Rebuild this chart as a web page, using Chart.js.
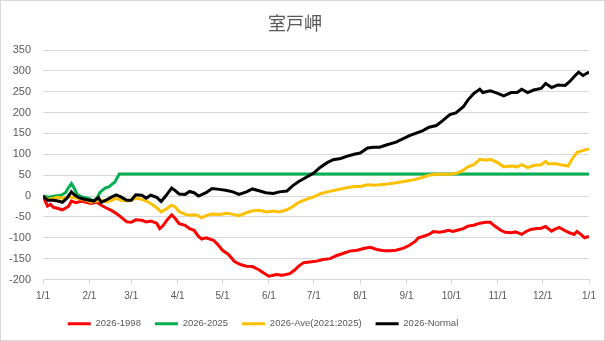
<!DOCTYPE html>
<html>
<head>
<meta charset="utf-8">
<title>室戸岬</title>
<script src="https://cdn.jsdelivr.net/npm/chart.js@4"></script>
<style>
  body { margin: 0; background: #fff; }
  #wrap { width: 605px; height: 341px; box-sizing: border-box; border: 1px solid #d9d9d9; background: #fff; }
</style>
</head>
<body>
<div id="wrap"><canvas id="chart" width="603" height="339"></canvas></div>
<script>
// x = day of year (0 = 1/1), y = cumulative difference
const monthDays = [0, 31, 59, 90, 120, 151, 181, 212, 243, 273, 304, 334, 365];
const monthLabels = ['1/1', '2/1', '3/1', '4/1', '5/1', '6/1', '7/1', '8/1', '9/1', '10/1', '11/1', '12/1', '1/1'];

const seriesNames = ['2026-1998', '2026-2025', '2026-Ave(2021:2025)', '2026-Normal'];
const seriesColors = ['#ff0000', '#00b050', '#ffc000', '#000000'];

const diff1998 = [
  [0, 0], [3, -24], [5, -20], [7, -27], [10, -30], [13, -33], [17, -25], [19, -12], [22, -16], [26, -12],
  [29, -15], [32, -18], [36, -15], [39, -22], [42, -28], [46, -35], [49, -42], [52, -50], [56, -62], [59, -63],
  [62, -57], [66, -58], [69, -62], [72, -60], [76, -65], [78, -78], [80, -72], [83, -57], [86, -45], [88, -52],
  [91, -66], [95, -70], [98, -78], [101, -82], [104, -97], [106, -103], [109, -100], [114, -106], [117, -117],
  [120, -130], [124, -140], [128, -157], [132, -164], [136, -168], [140, -169], [144, -176], [147, -183],
  [151, -192], [156, -188], [160, -190], [165, -186], [168, -178], [171, -168], [174, -160], [178, -158],
  [183, -156], [187, -152], [192, -150], [196, -143], [201, -137], [205, -132], [210, -130], [215, -125],
  [219, -123], [223, -128], [228, -131], [232, -131], [236, -130], [241, -125], [245, -118], [249, -108],
  [251, -100], [254, -97], [258, -92], [261, -85], [265, -87], [268, -85], [271, -82], [274, -85], [277, -82],
  [281, -78], [284, -72], [288, -70], [292, -65], [296, -63], [299, -63], [302, -72], [306, -82], [309, -87],
  [313, -88], [316, -86], [320, -92], [323, -85], [326, -80], [330, -78], [333, -77], [336, -73], [340, -84],
  [342, -80], [345, -75], [349, -83], [352, -88], [355, -92], [357, -85], [360, -93], [362, -100], [365, -97]
];

const diff2025 = [
  [0, 0], [4, -3], [8, 0], [12, 2], [15, 8], [17, 20], [19, 30], [21, 18], [23, 3], [27, -3],
  [31, -6], [34, -12], [36, -5], [38, 8], [40, 15], [42, 20], [44, 22], [46, 28], [48, 33], [49, 40],
  [51, 53], [365, 53]
];

const diffAve = [
  [0, 0], [3, -8], [7, -5], [10, -3], [13, -5], [17, -2], [19, -3], [22, -5], [26, -8], [29, -10],
  [32, -15], [36, -12], [39, -10], [42, -14], [46, -10], [49, -5], [52, -10], [56, -12], [59, -10], [62, -5],
  [66, -8], [69, -12], [72, -18], [76, -28], [79, -38], [82, -32], [86, -22], [88, -25], [91, -37], [95, -44],
  [98, -46], [101, -45], [103, -46], [106, -52], [109, -47], [113, -43], [118, -44], [123, -41], [127, -44],
  [131, -47], [136, -40], [140, -35], [145, -34], [149, -38], [154, -36], [158, -38], [163, -33], [167, -25],
  [171, -15], [176, -8], [181, -2], [185, 5], [190, 10], [194, 13], [199, 17], [203, 20], [208, 23], [212, 23],
  [217, 27], [221, 26], [225, 27], [230, 29], [236, 32], [241, 35], [245, 37], [249, 40], [254, 45], [258, 50],
  [263, 52], [267, 52], [273, 53], [277, 55], [281, 62], [284, 70], [288, 75], [292, 88], [296, 86], [299, 88],
  [304, 80], [308, 70], [313, 72], [317, 70], [320, 75], [324, 68], [328, 73], [333, 75], [336, 83], [338, 77],
  [342, 78], [346, 75], [351, 72], [354, 90], [357, 105], [362, 110], [365, 113]
];

const diffNormal = [
  [0, 0], [3, -10], [7, -10], [10, -12], [13, -15], [16, -5], [19, 10], [21, 3], [24, -4], [27, -7],
  [31, -10], [34, -12], [37, -4], [39, -15], [42, -10], [46, -2], [49, 3], [52, -2], [56, -10], [59, -10],
  [62, 3], [66, 2], [69, -5], [72, 2], [76, -3], [79, -13], [82, 0], [86, 19], [88, 14], [91, 5],
  [95, 4], [98, 11], [101, 8], [104, 0], [109, 8], [113, 18], [118, 16], [122, 14], [127, 10], [131, 4],
  [136, 10], [140, 17], [145, 12], [149, 8], [154, 6], [158, 10], [163, 12], [167, 25], [171, 35], [176, 45],
  [181, 55], [185, 68], [190, 80], [194, 87], [199, 90], [203, 95], [208, 100], [212, 103], [217, 115], [221, 117],
  [225, 117], [230, 123], [236, 129], [245, 145], [254, 157], [258, 165], [263, 169], [267, 180], [272, 195], [276, 199],
  [281, 214], [284, 230], [288, 246], [292, 256], [294, 248], [299, 252], [304, 246], [308, 240], [313, 248], [317, 248],
  [320, 256], [324, 248], [328, 254], [333, 258], [336, 270], [340, 260], [344, 266], [349, 265], [352, 274], [355, 286],
  [358, 297], [361, 289], [365, 297]
];

const seriesData = [diff1998, diff2025, diffAve, diffNormal];

const textColor = '#595959';
const gridColor = '#d9d9d9';
const baseFont = 'Liberation Sans, Arial, sans-serif';

// later series are drawn on top (smaller order = drawn last)
const datasets = seriesData.map((rows, i) => ({
  label: seriesNames[i],
  data: rows.map(r => ({ x: r[0], y: r[1] })),
  borderColor: seriesColors[i],
  backgroundColor: seriesColors[i],
  borderWidth: 3,
  pointRadius: 0,
  tension: 0,
  order: seriesData.length - i
}));

// legend row sits a bit left of the canvas centre
const legendShift = {
  id: 'legendShift',
  afterLayout(chart) {
    chart.legend.right -= 64;
  }
};

new Chart(document.getElementById('chart'), {
  type: 'line',
  data: { datasets },
  plugins: [legendShift],
  options: {
    responsive: false,
    devicePixelRatio: 1,
    animation: false,
    layout: { padding: { left: 0, right: 15, top: 0, bottom: 1.5 } },
    plugins: {
      title: {
        display: true,
        text: '室戸岬',
        color: textColor,
        font: { family: 'Noto Sans CJK JP, sans-serif', size: 18, weight: 'normal' },
        padding: { top: 11, bottom: 16.4 }
      },
      legend: {
        position: 'bottom',
        labels: {
          color: textColor,
          font: { family: baseFont, size: 9.5 },
          boxWidth: 23,
          boxHeight: 3,
          padding: 14,
          sort: (a, b) => a.datasetIndex - b.datasetIndex,
          generateLabels(chart) {
            const items = Chart.defaults.plugins.legend.labels.generateLabels(chart);
            items.forEach(item => {
              item.lineWidth = 0;
              item.fillStyle = seriesColors[item.datasetIndex];
            });
            return items;
          }
        }
      },
      tooltip: { enabled: false }
    },
    scales: {
      x: {
        type: 'linear',
        min: 0,
        max: 365,
        afterBuildTicks(scale) {
          scale.ticks = monthDays.map(v => ({ value: v }));
        },
        afterFit(scale) { scale.height = 25.5; },
        ticks: {
          color: textColor,
          font: { family: baseFont, size: 10 },
          padding: 6,
          maxRotation: 0,
          autoSkip: false,
          callback: (value, index) => monthLabels[index]
        },
        grid: { drawOnChartArea: false, drawTicks: true, tickLength: 5, color: gridColor },
        border: { display: true, color: gridColor }
      },
      y: {
        min: -200,
        max: 350,
        afterFit(scale) { scale.width = 42; },
        ticks: {
          stepSize: 50,
          color: textColor,
          font: { family: baseFont, size: 11 },
          padding: 12
        },
        grid: { color: gridColor, drawTicks: false },
        border: { display: false }
      }
    }
  }
});
</script>
</body>
</html>
